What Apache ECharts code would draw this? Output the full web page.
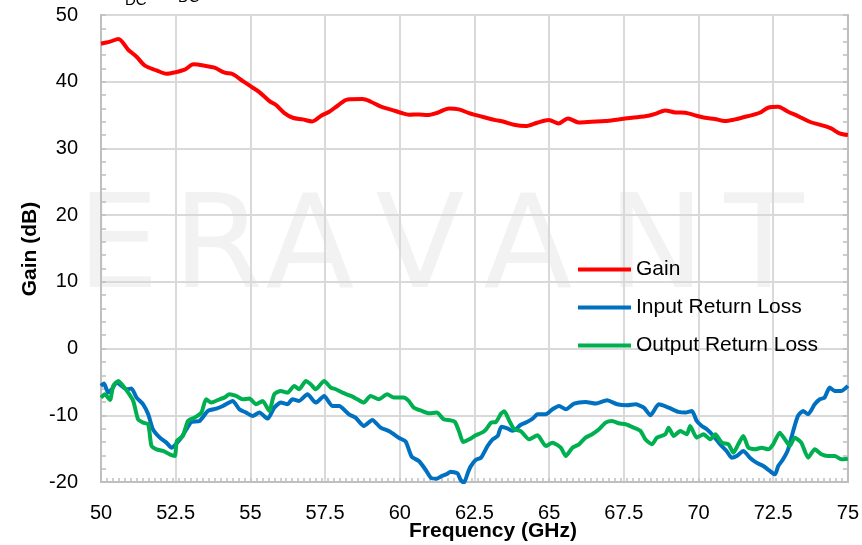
<!DOCTYPE html>
<html>
<head>
<meta charset="utf-8">
<script src="https://cdn.jsdelivr.net/npm/echarts@6/dist/echarts.min.js"></script>
<style>
  html, body { margin: 0; padding: 0; background: #ffffff; }
  #chart { width: 862px; height: 545px; }
</style>
</head>
<body>
<div id="chart"></div>
<script>
// Gain trace (GHz, dB)
const gainFreq = [50.00, 50.30, 50.58, 50.91, 51.19, 51.47, 51.86, 52.19, 52.47, 52.80, 53.10, 53.47, 53.80, 54.14, 54.40, 54.75, 55.03, 55.30, 55.64, 55.86, 56.14, 56.42, 56.75, 57.07, 57.37, 57.64, 57.92, 58.25, 58.75, 59.03, 59.37, 59.76, 60.04, 60.31, 60.65, 60.92, 61.26, 61.65, 61.98, 62.32, 62.76, 63.20, 63.48, 63.82, 64.21, 64.60, 64.99, 65.32, 65.63, 65.99, 66.43, 66.88, 67.32, 67.77, 68.32, 68.60, 68.88, 69.22, 69.55, 69.94, 70.22, 70.55, 70.88, 71.22, 71.66, 72.05, 72.33, 72.66, 73.00, 73.33, 73.72, 74.11, 74.44, 74.72, 75.00];
const gainDb = [45.7, 46.0, 46.4, 44.8, 43.75, 42.4, 41.7, 41.2, 41.4, 41.8, 42.6, 42.4, 42.1, 41.35, 41.15, 40.1, 39.25, 38.45, 37.1, 36.5, 35.3, 34.6, 34.35, 34.05, 34.9, 35.5, 36.4, 37.35, 37.4, 37.0, 36.25, 35.75, 35.35, 35.05, 35.1, 35.0, 35.35, 36.0, 35.85, 35.3, 34.75, 34.25, 34.0, 33.55, 33.35, 33.85, 34.25, 33.75, 34.5, 33.9, 34.0, 34.1, 34.35, 34.6, 34.9, 35.25, 35.7, 35.4, 35.35, 34.9, 34.6, 34.4, 34.1, 34.35, 34.85, 35.35, 36.1, 36.25, 35.5, 34.85, 34.0, 33.5, 33.0, 32.25, 32.0];

// Input return loss trace (GHz, dB)
const inputFreq = [50.00, 50.10, 50.24, 50.36, 50.52, 50.69, 50.86, 51.02, 51.19, 51.41, 51.58, 51.74, 51.97, 52.19, 52.36, 52.50, 52.69, 52.86, 53.02, 53.30, 53.58, 53.86, 54.08, 54.41, 54.63, 54.86, 55.08, 55.30, 55.58, 55.80, 56.02, 56.24, 56.41, 56.63, 56.91, 57.19, 57.47, 57.74, 57.97, 58.30, 58.52, 58.80, 59.08, 59.36, 59.65, 59.98, 60.20, 60.40, 60.65, 60.87, 61.05, 61.24, 61.41, 61.58, 61.70, 61.93, 62.04, 62.15, 62.28, 62.37, 62.54, 62.72, 62.94, 63.11, 63.28, 63.40, 63.60, 63.76, 63.89, 64.04, 64.26, 64.45, 64.61, 64.89, 65.11, 65.33, 65.56, 65.83, 66.22, 66.56, 66.94, 67.28, 67.61, 67.89, 68.17, 68.39, 68.67, 69.00, 69.33, 69.56, 69.78, 69.94, 70.11, 70.28, 70.50, 70.72, 70.94, 71.11, 71.28, 71.50, 71.72, 71.94, 72.17, 72.39, 72.56, 72.67, 72.83, 73.00, 73.17, 73.33, 73.50, 73.67, 73.89, 74.06, 74.22, 74.39, 74.56, 74.78, 75.00];
const inputDb = [-5.6, -5.25, -6.6, -6.1, -5.1, -5.6, -6.1, -6.0, -7.35, -8.35, -9.85, -12.1, -13.35, -14.1, -14.85, -14.35, -13.35, -12.1, -11.0, -10.85, -9.35, -9.0, -8.6, -7.85, -9.1, -9.6, -10.1, -9.6, -10.5, -8.85, -8.1, -8.35, -7.6, -7.85, -6.85, -8.1, -7.1, -8.6, -8.6, -9.85, -10.35, -11.6, -10.7, -11.85, -12.4, -13.4, -13.95, -16.2, -16.9, -18.2, -19.4, -19.5, -19.1, -18.8, -18.45, -18.7, -19.7, -20.1, -18.6, -17.7, -16.7, -16.35, -14.6, -13.6, -13.1, -11.7, -11.95, -12.3, -12.1, -11.45, -11.0, -10.5, -9.85, -9.85, -9.1, -8.6, -9.1, -8.25, -8.0, -8.25, -7.75, -8.35, -8.5, -8.35, -8.85, -10.0, -8.35, -8.85, -9.5, -9.6, -9.35, -10.85, -11.6, -12.1, -13.1, -14.35, -15.35, -16.35, -16.1, -15.35, -16.35, -17.1, -17.6, -18.35, -18.85, -17.6, -16.6, -15.1, -12.35, -10.1, -9.35, -9.85, -8.35, -7.6, -7.35, -5.85, -6.35, -6.35, -5.6];

// Output return loss trace (GHz, dB)
const outputFreq = [50.00, 50.13, 50.30, 50.41, 50.58, 50.74, 50.91, 51.08, 51.24, 51.41, 51.58, 51.69, 51.86, 52.08, 52.30, 52.47, 52.54, 52.74, 52.91, 53.13, 53.36, 53.52, 53.69, 53.97, 54.13, 54.30, 54.52, 54.74, 54.97, 55.19, 55.41, 55.63, 55.80, 56.02, 56.24, 56.47, 56.63, 56.86, 57.02, 57.19, 57.47, 57.69, 57.86, 58.08, 58.36, 58.58, 58.80, 59.02, 59.30, 59.58, 59.80, 60.13, 60.30, 60.47, 60.74, 60.97, 61.24, 61.47, 61.69, 61.85, 62.00, 62.12, 62.33, 62.54, 62.75, 62.89, 63.06, 63.22, 63.40, 63.50, 63.67, 63.83, 64.06, 64.33, 64.61, 64.89, 65.11, 65.39, 65.56, 65.78, 66.00, 66.22, 66.44, 66.67, 66.89, 67.11, 67.33, 67.56, 67.83, 68.06, 68.22, 68.44, 68.61, 68.89, 69.00, 69.17, 69.39, 69.61, 69.72, 69.94, 70.17, 70.39, 70.56, 70.78, 71.00, 71.17, 71.33, 71.50, 71.67, 71.89, 72.11, 72.33, 72.50, 72.72, 72.89, 73.06, 73.22, 73.44, 73.67, 73.89, 74.11, 74.33, 74.56, 74.78, 75.00];
const outputDb = [-7.35, -6.85, -7.7, -5.6, -4.85, -5.6, -6.6, -7.85, -10.6, -11.1, -11.35, -14.6, -15.1, -15.35, -15.85, -16.1, -13.85, -13.1, -10.85, -10.35, -9.6, -7.6, -8.1, -7.6, -7.35, -6.85, -7.1, -7.6, -7.5, -8.35, -7.85, -9.35, -6.85, -6.35, -6.6, -5.6, -6.1, -4.85, -5.35, -6.1, -4.85, -5.85, -6.1, -6.6, -7.1, -7.6, -8.1, -7.1, -7.6, -6.85, -7.35, -7.35, -7.85, -8.85, -9.35, -9.7, -9.6, -10.6, -10.75, -11.0, -12.6, -14.0, -13.6, -13.0, -12.6, -12.1, -11.1, -11.0, -9.7, -9.4, -10.85, -12.1, -12.4, -13.6, -13.0, -14.6, -14.1, -14.85, -16.1, -14.85, -14.35, -13.35, -12.85, -12.1, -11.1, -10.85, -11.2, -11.35, -11.85, -12.35, -13.6, -14.35, -13.35, -12.85, -11.85, -13.1, -12.35, -12.85, -11.6, -13.35, -12.85, -13.6, -12.85, -14.1, -14.35, -15.6, -14.35, -13.1, -14.85, -15.1, -14.85, -15.1, -14.35, -12.6, -13.6, -14.6, -13.35, -14.1, -16.35, -15.1, -15.85, -16.1, -16.1, -16.6, -16.5];

const seriesNames = ['Gain', 'Input Return Loss', 'Output Return Loss'];
const seriesColors = ['#ff0000', '#0070c0', '#00b050'];
const watermarkLetters = ['E', 'R', 'A', 'V', 'A', 'N', 'T'];
const watermarkCenters = [118, 218, 310, 420, 528, 656, 764];

const FONT = '"Liberation Sans", Arial, sans-serif';
const pairs = (xs, ys) => xs.map((x, i) => [x, ys[i]]);

const chart = echarts.init(document.getElementById('chart'), null, { renderer: 'canvas' });

const gridColor = '#d9d9d9';
const axisColor = '#bfbfbf';

// Faint brand lettering behind the plot
const watermark = watermarkLetters.map((ch, i) => ({
  type: 'text',
  z: -10,
  silent: true,
  x: watermarkCenters[i],
  y: 253,
  style: {
    text: ch,
    align: 'center',
    verticalAlign: 'middle',
    font: '130px "DejaVu Sans", sans-serif',
    fill: 'rgba(0,0,0,0.05)'
  }
}));

chart.setOption({
  animation: false,
  backgroundColor: '#ffffff',
  grid: {
    left: 101, right: 12, top: 15, bottom: 63,
    show: true, borderColor: gridColor, borderWidth: 2, backgroundColor: 'transparent'
  },
  legend: {
    data: seriesNames,
    orient: 'vertical',
    left: 578,
    top: 259,
    padding: 0,
    icon: 'rect',
    itemWidth: 53,
    itemHeight: 4,
    itemGap: 17,
    textStyle: { fontFamily: FONT, fontSize: 21, color: '#000', lineHeight: 21 }
  },
  xAxis: [
    {
      type: 'value', min: 50, max: 75, interval: 2.5, position: 'bottom',
      axisLine: { show: true, onZero: false, lineStyle: { color: axisColor, width: 2 } },
      axisTick: { show: false },
      axisLabel: {
        fontFamily: FONT, fontSize: 20, color: '#000', margin: 21,
        showMinLabel: true, showMaxLabel: true,
        formatter: v => String(v)
      },
      splitLine: { show: true, lineStyle: { color: gridColor, width: 2 } }
    },
    {
      // fine 0.2 GHz tick marks along the bottom edge
      type: 'value', min: 50, max: 75, interval: 0.2, position: 'bottom',
      axisLine: { show: false, onZero: false },
      axisTick: { show: true, inside: true, length: 4, lineStyle: { color: axisColor, width: 1.5 } },
      axisLabel: { show: false },
      splitLine: { show: false }
    }
  ],
  yAxis: [
    {
      type: 'value', min: -20, max: 50, interval: 10,
      axisLine: { show: true, onZero: false, lineStyle: { color: axisColor, width: 2 } },
      axisTick: { show: true, inside: true, length: 5, lineStyle: { color: axisColor, width: 1.5 } },
      minorTick: { show: true, splitNumber: 5, length: 5, lineStyle: { color: axisColor, width: 1.5 } },
      axisLabel: { fontFamily: FONT, fontSize: 20, color: '#000', margin: 23, showMinLabel: true, showMaxLabel: true },
      splitLine: { show: true, lineStyle: { color: gridColor, width: 2 } }
    },
    {
      type: 'value', min: -20, max: 50, interval: 10, position: 'right',
      axisLine: { show: true, onZero: false, lineStyle: { color: axisColor, width: 2 } },
      axisTick: { show: true, inside: true, length: 5, lineStyle: { color: axisColor, width: 1.5 } },
      minorTick: { show: true, splitNumber: 5, length: 5, lineStyle: { color: axisColor, width: 1.5 } },
      axisLabel: { show: false },
      splitLine: { show: false }
    }
  ],
  series: [
    {
      name: seriesNames[0], type: 'line', xAxisIndex: 0, yAxisIndex: 0,
      data: pairs(gainFreq, gainDb), showSymbol: false, symbol: 'none', smooth: 0.3,
      lineStyle: { color: seriesColors[0], width: 4 }, itemStyle: { color: seriesColors[0] }
    },
    {
      name: seriesNames[1], type: 'line', xAxisIndex: 0, yAxisIndex: 0,
      data: pairs(inputFreq, inputDb), showSymbol: false, symbol: 'none', smooth: 0.2,
      lineStyle: { color: seriesColors[1], width: 4 }, itemStyle: { color: seriesColors[1] }
    },
    {
      name: seriesNames[2], type: 'line', xAxisIndex: 0, yAxisIndex: 0,
      data: pairs(outputFreq, outputDb), showSymbol: false, symbol: 'none', smooth: 0.2,
      lineStyle: { color: seriesColors[2], width: 4 }, itemStyle: { color: seriesColors[2] }
    }
  ],
  graphic: watermark.concat([
    {
      type: 'text', x: 30, y: 249, rotation: Math.PI / 2,
      style: { text: 'Gain (dB)', align: 'center', verticalAlign: 'middle', font: 'bold 21px ' + FONT, fill: '#000' }
    },
    {
      type: 'text', x: 493, y: 531,
      style: { text: 'Frequency (GHz)', align: 'center', verticalAlign: 'middle', font: 'bold 21px ' + FONT, fill: '#000' }
    },
    {
      type: 'text', x: 125, y: -7,
      style: { text: 'DC', align: 'left', verticalAlign: 'top', font: '15px ' + FONT, fill: '#000' }
    },
    {
      type: 'text', x: 178, y: -10,
      style: { text: 'DC', align: 'left', verticalAlign: 'top', font: '15px ' + FONT, fill: '#000' }
    }
  ])
});
</script>
</body>
</html>
